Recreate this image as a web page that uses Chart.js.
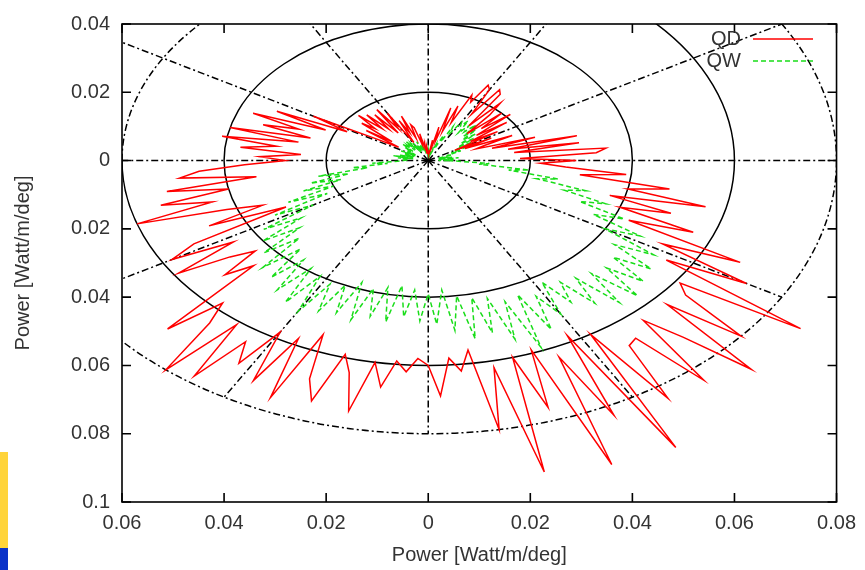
<!DOCTYPE html>
<html>
<head>
<meta charset="utf-8">
<script src="https://cdn.jsdelivr.net/npm/chart.js@4.4.1/dist/chart.umd.min.js"></script>
<style>
    html, body { margin: 0; padding: 0; background: #fff; }
    #wrap { position: relative; width: 865px; height: 570px; }
    #plot { position: absolute; left: 0; top: 0; }
    .bar { position: absolute; left: 0; width: 8px; }
    #barYellow { top: 452px; height: 96px; background: #ffd43a; }
    #barBlue { top: 548px; height: 22px; background: #0a32c8; }
</style>
</head>
<body>
<div id="wrap">
    <canvas id="plot" width="865" height="570"></canvas>
    <div class="bar" id="barYellow"></div>
    <div class="bar" id="barBlue"></div>
</div>
<script>
// angle in degrees for each sample of the radiation pattern
const ANGLES = [
    0, 2, 4, 6, 8, 10, 12, 14, 16, 18,
    20, 22, 24, 26, 28, 30, 32, 34, 36, 38,
    40, 42, 44, 46, 48, 50, 52, 54, 56, 58,
    60, 62, 64, 66, 68, 70, 72, 74, 76, 78,
    80, 82, 84, 86, 88, 90, 92, 94, 96, 98,
    100, 102, 104, 106, 108, 110, 112, 114, 116, 118,
    120, 122, 124, 126, 128, 130, 132, 134, 136, 138,
    140, 142, 144, 146, 148, 150, 152, 154, 156, 158,
    160, 162, 164, 166, 168, 170, 172, 174, 176, 178,
    180, 182, 184, 186, 188, 190, 192, 194, 196, 198,
    200, 202, 204, 206, 208, 210, 212, 214, 216, 218,
    220, 222, 224, 226, 228, 230, 232, 234, 236, 238,
    240, 242, 244, 246, 248, 250, 252, 254, 256, 258,
    260, 262, 264, 266, 268, 270, 272, 274, 276, 278,
    280, 282, 284, 286, 288, 290, 292, 294, 296, 298,
    300, 302, 304, 306, 308, 310, 312, 314, 316, 318,
    320, 322, 324, 326, 328, 330, 332, 334, 336, 338,
    340, 342, 344, 346, 348, 350, 352, 354, 356, 358
];

// emitted power, Watt/m/deg
const QD_POWER = [
    0.029, 0.018, 0.033, 0.035, 0.017, 0.030, 0.016, 0.030, 0.013, 0.022,
    0.010, 0.012, 0.018, 0.008, 0.014, 0.006, 0.016, 0.010, 0.019, 0.012,
    0.021, 0.014, 0.020, 0.011, 0.018, 0.022, 0.013, 0.024, 0.025, 0.016,
    0.024, 0.025, 0.019, 0.021, 0.012, 0.017, 0.009, 0.016, 0.006, 0.010,
    0.004, 0.006, 0.003, 0.002, 0.003, 0.002, 0.003, 0.004, 0.002, 0.005,
    0.004, 0.008, 0.005, 0.010, 0.011, 0.007, 0.014, 0.009, 0.013, 0.006,
    0.016, 0.011, 0.018, 0.010, 0.017, 0.012, 0.018, 0.013, 0.019, 0.014,
    0.017, 0.009, 0.015, 0.007, 0.012, 0.026, 0.018, 0.033, 0.022, 0.037,
    0.027, 0.034, 0.024, 0.040, 0.026, 0.041, 0.030, 0.037, 0.025, 0.033,
    0.028, 0.036, 0.045, 0.049, 0.034, 0.052, 0.040, 0.054, 0.044, 0.060,
    0.042, 0.035, 0.047, 0.031, 0.052, 0.058, 0.045, 0.059, 0.048, 0.043,
    0.052, 0.046, 0.071, 0.058, 0.064, 0.080, 0.061, 0.078, 0.064, 0.070,
    0.058, 0.073, 0.058, 0.076, 0.055, 0.068, 0.074, 0.059, 0.064, 0.075,
    0.060, 0.067, 0.059, 0.062, 0.058, 0.060, 0.069, 0.058, 0.062, 0.056,
    0.080, 0.062, 0.094, 0.060, 0.076, 0.059, 0.096, 0.063, 0.083, 0.058,
    0.097, 0.060, 0.084, 0.067, 0.066, 0.084, 0.063, 0.072, 0.088, 0.063,
    0.080, 0.064, 0.061, 0.088, 0.055, 0.072, 0.052, 0.068, 0.043, 0.056,
    0.040, 0.050, 0.037, 0.056, 0.040, 0.048, 0.030, 0.039, 0.027, 0.022
];

const QW_POWER = [
    0.004, 0.002, 0.005, 0.003, 0.006, 0.002, 0.005, 0.003, 0.004, 0.002,
    0.005, 0.004, 0.007, 0.005, 0.009, 0.006, 0.010, 0.007, 0.011, 0.008,
    0.012, 0.009, 0.013, 0.010, 0.014, 0.011, 0.013, 0.010, 0.014, 0.012,
    0.013, 0.009, 0.011, 0.006, 0.008, 0.004, 0.005, 0.003, 0.004, 0.002,
    0.003, 0.002, 0.003, 0.002, 0.002, 0.003, 0.002, 0.003, 0.002, 0.003,
    0.004, 0.003, 0.005, 0.003, 0.005, 0.004, 0.006, 0.004, 0.005, 0.003,
    0.006, 0.004, 0.006, 0.005, 0.007, 0.004, 0.006, 0.005, 0.007, 0.004,
    0.006, 0.004, 0.005, 0.003, 0.005, 0.004, 0.006, 0.003, 0.005, 0.004,
    0.005, 0.003, 0.006, 0.004, 0.007, 0.003, 0.006, 0.004, 0.005, 0.004,
    0.005, 0.006, 0.011, 0.008, 0.015, 0.012, 0.022, 0.016, 0.024, 0.018,
    0.026, 0.020, 0.030, 0.022, 0.034, 0.026, 0.038, 0.030, 0.040, 0.032,
    0.042, 0.034, 0.045, 0.036, 0.046, 0.038, 0.048, 0.039, 0.050, 0.040,
    0.051, 0.041, 0.049, 0.040, 0.048, 0.038, 0.049, 0.039, 0.047, 0.038,
    0.048, 0.037, 0.046, 0.038, 0.047, 0.039, 0.048, 0.038, 0.050, 0.040,
    0.053, 0.041, 0.052, 0.042, 0.055, 0.044, 0.059, 0.043, 0.055, 0.045,
    0.052, 0.042, 0.050, 0.044, 0.053, 0.045, 0.056, 0.046, 0.057, 0.047,
    0.055, 0.046, 0.054, 0.044, 0.052, 0.040, 0.047, 0.036, 0.042, 0.032,
    0.037, 0.028, 0.032, 0.022, 0.026, 0.016, 0.020, 0.010, 0.012, 0.006
];

const X_TICKS = [-0.06, -0.04, -0.02, 0, 0.02, 0.04, 0.06, 0.08];
const Y_TICKS = [0.04, 0.02, 0, -0.02, -0.04, -0.06, -0.08, -0.1];
const RINGS = [0.02, 0.04, 0.06, 0.08];
const SPOKES = [0, 30, 60, 90, 120, 150, 180, 210, 240, 270, 300, 330];

const FONT = '"Liberation Sans", Arial, sans-serif';
const RED = '#ff0000';
const GREEN = '#19dd19';
const DASH_DOT = [7, 3, 2, 3];

// polar -> cartesian, closing the loop back to the first sample
function toXY(radii) {
    const pts = ANGLES.map((a, i) => {
        const t = a * Math.PI / 180;
        return { x: radii[i] * Math.cos(t), y: radii[i] * Math.sin(t) };
    });
    pts.push(pts[0]);
    return pts;
}

// gnuplot-style axis labels show magnitude only
function tickLabel(v) {
    return String(parseFloat(Math.abs(v).toFixed(2)));
}

const polarFrame = {
    id: 'polarFrame',
    beforeDatasetsDraw(chart) {
        const { ctx, chartArea: a, scales: { x, y } } = chart;
        const cx = x.getPixelForValue(0);
        const cy = y.getPixelForValue(0);
        ctx.save();
        ctx.beginPath();
        ctx.rect(a.left, a.top, a.width, a.height);
        ctx.clip();
        ctx.strokeStyle = '#000';
        ctx.lineWidth = 1.5;

        RINGS.forEach((r, i) => {
            const rx = x.getPixelForValue(r) - cx;
            const ry = cy - y.getPixelForValue(r);
            if (i === RINGS.length - 1) {
                ctx.setLineDash(DASH_DOT);
                ctx.beginPath();
                ctx.ellipse(cx, cy, rx, ry, 0, 0, Math.PI * 2);
                ctx.stroke();
            } else if (i === RINGS.length - 2) {
                ctx.setLineDash([]);
                ctx.beginPath();
                ctx.ellipse(cx, cy, rx, ry, 0, -Math.PI / 2, Math.PI);
                ctx.stroke();
                ctx.setLineDash(DASH_DOT);
                ctx.beginPath();
                ctx.ellipse(cx, cy, rx, ry, 0, Math.PI, Math.PI * 1.5);
                ctx.stroke();
            } else {
                ctx.setLineDash([]);
                ctx.beginPath();
                ctx.ellipse(cx, cy, rx, ry, 0, 0, Math.PI * 2);
                ctx.stroke();
            }
        });

        // spokes run out to the outer ring
        const rMax = RINGS[RINGS.length - 1];
        ctx.setLineDash(DASH_DOT);
        SPOKES.forEach(deg => {
            const t = deg * Math.PI / 180;
            ctx.beginPath();
            ctx.moveTo(cx, cy);
            ctx.lineTo(x.getPixelForValue(rMax * Math.cos(t)), y.getPixelForValue(rMax * Math.sin(t)));
            ctx.stroke();
        });
        ctx.restore();
    },
    afterDatasetsDraw(chart) {
        const { ctx, chartArea: a, scales: { x, y } } = chart;
        ctx.save();
        ctx.strokeStyle = '#000';
        ctx.lineWidth = 1.6;
        ctx.setLineDash([]);
        ctx.strokeRect(a.left, a.top, a.width, a.height);

        // inward tick marks on all four sides
        const len = 9;
        ctx.beginPath();
        X_TICKS.forEach(v => {
            const px = x.getPixelForValue(v);
            ctx.moveTo(px, a.bottom); ctx.lineTo(px, a.bottom - len);
            ctx.moveTo(px, a.top); ctx.lineTo(px, a.top + len);
        });
        Y_TICKS.forEach(v => {
            const py = y.getPixelForValue(v);
            ctx.moveTo(a.left, py); ctx.lineTo(a.left + len, py);
            ctx.moveTo(a.right, py); ctx.lineTo(a.right - len, py);
        });
        ctx.stroke();

        // key, top right
        const keys = [
            { label: 'QD', color: RED, dash: [] },
            { label: 'QW', color: GREEN, dash: [5, 3] }
        ];
        ctx.font = '20px ' + FONT;
        ctx.textAlign = 'right';
        ctx.textBaseline = 'middle';
        keys.forEach((k, i) => {
            const ky = 39 + i * 22;
            ctx.fillStyle = '#333';
            ctx.fillText(k.label, 741, ky);
            ctx.strokeStyle = k.color;
            ctx.lineWidth = 1.6;
            ctx.setLineDash(k.dash);
            ctx.beginPath();
            ctx.moveTo(753, ky);
            ctx.lineTo(813, ky);
            ctx.stroke();
        });
        ctx.restore();
    }
};

new Chart(document.getElementById('plot').getContext('2d'), {
    type: 'scatter',
    data: {
        datasets: [
            {
                label: 'QD',
                data: toXY(QD_POWER),
                showLine: true,
                borderColor: RED,
                borderWidth: 1.5,
                pointRadius: 0,
                tension: 0
            },
            {
                label: 'QW',
                data: toXY(QW_POWER),
                showLine: true,
                borderColor: GREEN,
                borderWidth: 1.5,
                borderDash: [5, 3],
                pointRadius: 0,
                tension: 0
            }
        ]
    },
    options: {
        responsive: false,
        animation: false,
        events: [],
        layout: { padding: { top: 18, right: 27, left: 0, bottom: 0 } },
        plugins: { legend: { display: false }, tooltip: { enabled: false } },
        scales: {
            x: {
                type: 'linear',
                min: -0.06,
                max: 0.08,
                afterBuildTicks: s => { s.ticks = X_TICKS.map(v => ({ value: v })); },
                afterFit: s => { s.height = 68; },
                grid: { display: false, drawTicks: false },
                border: { display: false },
                ticks: {
                    autoSkip: false,
                    maxRotation: 0,
                    padding: 9,
                    color: '#333',
                    font: { family: FONT, size: 20 },
                    callback: tickLabel
                },
                title: {
                    display: true,
                    text: 'Power [Watt/m/deg]',
                    color: '#333',
                    font: { family: FONT, size: 20 },
                    padding: { top: 0, bottom: 3 }
                }
            },
            y: {
                type: 'linear',
                min: -0.1,
                max: 0.04,
                afterBuildTicks: s => { s.ticks = Y_TICKS.map(v => ({ value: v })); },
                afterFit: s => { s.width = 122; },
                grid: { display: false, drawTicks: false },
                border: { display: false },
                ticks: {
                    autoSkip: false,
                    padding: 12,
                    color: '#333',
                    font: { family: FONT, size: 20 },
                    callback: tickLabel
                },
                title: {
                    display: true,
                    text: 'Power [Watt/m/deg]',
                    color: '#333',
                    font: { family: FONT, size: 20 },
                    padding: { top: 11, bottom: 0 }
                }
            }
        }
    },
    plugins: [polarFrame]
});
</script>
</body>
</html>
